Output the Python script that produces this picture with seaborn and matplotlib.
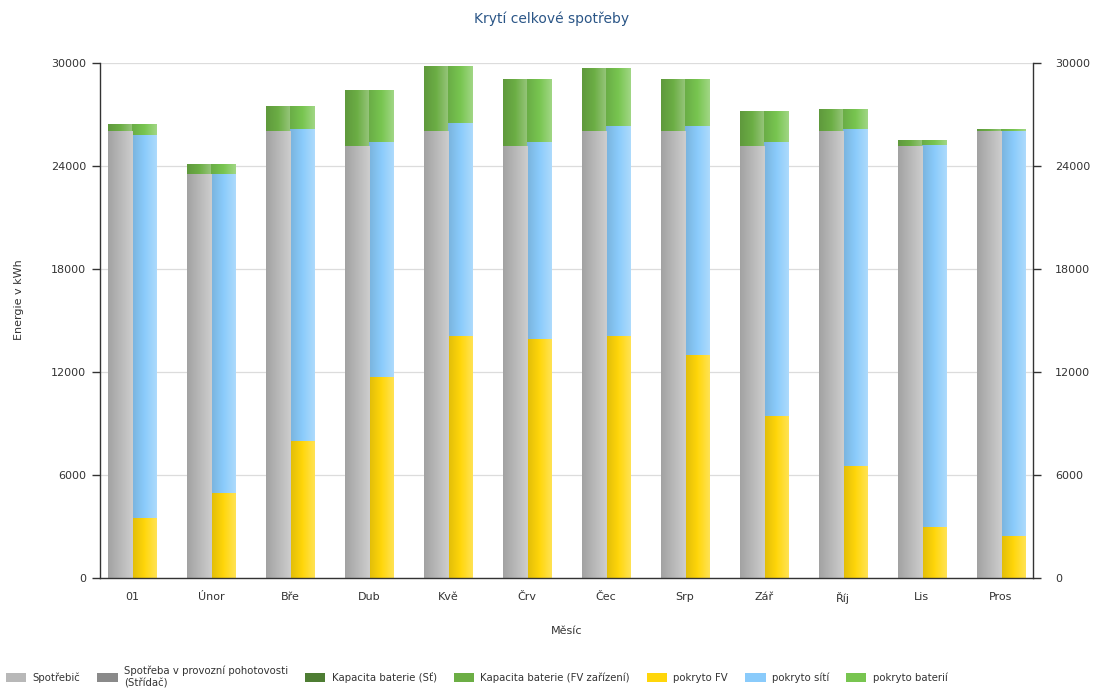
import numpy as np
import pandas as pd
import matplotlib
matplotlib.use("Agg")
import matplotlib.pyplot as plt
import seaborn as sns
from matplotlib.patches import Patch
from matplotlib.colors import to_rgb, LinearSegmentedColormap

# ---------------- data ----------------
months = ["01", "Únor", "Bře", "Dub", "Kvě", "Črv", "Čec", "Srp", "Zář", "Říj", "Lis", "Pros"]
spotrebic = [26000, 23480, 26000, 25160, 26000, 25160, 26000, 26000, 25160, 26000, 25160, 26000]
pohotovost = [0, 0, 0, 0, 0, 0, 0, 0, 0, 0, 0, 0]
kapacita_sit = [0, 0, 0, 0, 0, 0, 0, 0, 0, 0, 0, 0]
kapacita_fv = [430, 620, 1440, 3250, 3770, 3890, 3690, 3050, 2040, 1300, 310, 120]
pokryto_fv = [3440, 4910, 7940, 11670, 14060, 13920, 14060, 12990, 9400, 6490, 2950, 2410]
pokryto_sit = [22330, 18620, 18180, 13710, 12390, 11460, 12270, 13300, 15940, 19650, 22270, 23590]
pokryto_bat = [660, 570, 1320, 3030, 3320, 3670, 3360, 2760, 1860, 1160, 250, 120]
y_ticks = [0, 6000, 12000, 18000, 24000, 30000]

labels = ["Spotřebič", "Spotřeba v provozní pohotovosti\n(Střídač)", "Kapacita baterie (Sť)",
          "Kapacita baterie (FV zařízení)", "pokryto FV", "pokryto sítí", "pokryto baterií"]
colors = ["#b8b8b8", "#8a8a8a", "#4e7d33", "#6cae45", "#ffd60a", "#8acbfb", "#78c550"]

left_series = [spotrebic, pohotovost, kapacita_sit, kapacita_fv]
left_colors = colors[0:4]
right_series = [pokryto_fv, pokryto_sit, pokryto_bat]
right_colors = colors[4:7]

# ---------------- figure ----------------
sns.set_style("white")
plt.rcParams["font.family"] = ["DejaVu Sans"]
fig = plt.figure(figsize=(10.94, 6.95), dpi=100)
ax = fig.add_axes([100 / 1094, 1 - 578 / 695, (1033 - 100) / 1094, (578 - 63) / 695])

left_cum = np.cumsum(np.array(left_series, dtype=float), axis=0)
right_cum = np.cumsum(np.array(right_series, dtype=float), axis=0)
n_layers = max(len(left_series), len(right_series))

# draw layers from the outermost (total) down to the base
for k in range(n_layers):
    li = len(left_series) - 1 - k
    ri = len(right_series) - 1 - k
    lv = left_cum[li] if li >= 0 else np.zeros(len(months))
    rv = right_cum[ri] if ri >= 0 else np.zeros(len(months))
    lc = left_colors[li] if li >= 0 else "#ffffff"
    rc = right_colors[ri] if ri >= 0 else "#ffffff"
    df = pd.DataFrame({
        "Měsíc": months * 2,
        "value": list(lv) + list(rv),
        "side": ["L"] * len(months) + ["R"] * len(months),
    })
    sns.barplot(data=df, x="Měsíc", y="value", hue="side", order=months,
                hue_order=["L", "R"], palette={"L": lc, "R": rc}, width=0.61,
                dodge=True, gap=0, errorbar=None, legend=False, linewidth=0,
                saturation=1, ax=ax)

# horizontal gradient styling on each bar
for i, p in enumerate(list(ax.patches)):
    h = p.get_height()
    if h <= 0:
        p.set_visible(False)
        continue
    base = np.array(to_rgb(p.get_facecolor()))
    dark = base * 0.88
    light = base + (1 - base) * 0.3
    cmap = LinearSegmentedColormap.from_list("g", [dark, base, light])
    x0 = p.get_x()
    w = p.get_width()
    ax.imshow(np.linspace(0, 1, 64).reshape(1, -1), cmap=cmap, aspect="auto",
              extent=[x0, x0 + w, p.get_y(), p.get_y() + h],
              zorder=2 + i * 1e-3, interpolation="bilinear")
    p.set_visible(False)

ax.set_xlim(-0.405, 11.41)
ax.set_ylim(0, 30000)
ax.set_yticks(y_ticks)
ax.set_yticklabels([str(t) for t in y_ticks])
ax.yaxis.grid(True, color="#dcdcdc", linewidth=0.9)
ax.set_axisbelow(True)
ax.set_xlabel("Měsíc", fontsize=8, color="#333333", labelpad=16)
ax.set_ylabel("")
ax.tick_params(axis="x", length=0, labelsize=8, labelcolor="#333333", pad=10)
ax.tick_params(axis="y", length=6, width=1, color="#333333", labelsize=8,
               labelcolor="#333333", pad=4, direction="out", left=True)
for s in ["left", "bottom"]:
    ax.spines[s].set_color("#333333")
    ax.spines[s].set_linewidth(1)
ax.spines["top"].set_visible(False)
ax.spines["right"].set_visible(False)

ax2 = ax.twinx()
ax2.set_ylim(0, 30000)
ax2.set_yticks(y_ticks)
ax2.set_yticklabels([str(t) for t in y_ticks])
ax2.tick_params(axis="y", length=6, width=1, color="#333333", labelsize=8,
                labelcolor="#333333", pad=10, direction="out", right=True)
ax2.spines["right"].set_color("#333333")
ax2.spines["right"].set_linewidth(1)
for s in ["left", "top", "bottom"]:
    ax2.spines[s].set_visible(False)

fig.text(552 / 1094, 1 - 19 / 695, "Krytí celkové spotřeby", ha="center", va="center",
         fontsize=10, color="#2b5687")
fig.text(19 / 1094, 1 - 300 / 695, "Energie v kWh", ha="center", va="center",
         rotation=90, fontsize=8, color="#333333")

handles = [Patch(facecolor=c, edgecolor="none") for c in colors]
fig.legend(handles, labels, loc="center left", bbox_to_anchor=(0.0, 1 - 677 / 695),
           ncol=7, frameon=False, fontsize=7.3, handlelength=2.0, handleheight=0.95,
           handletextpad=0.6, columnspacing=1.7, labelcolor="#333333",
           borderaxespad=0.0, borderpad=0.6)

fig.savefig("out.png", dpi=100)
